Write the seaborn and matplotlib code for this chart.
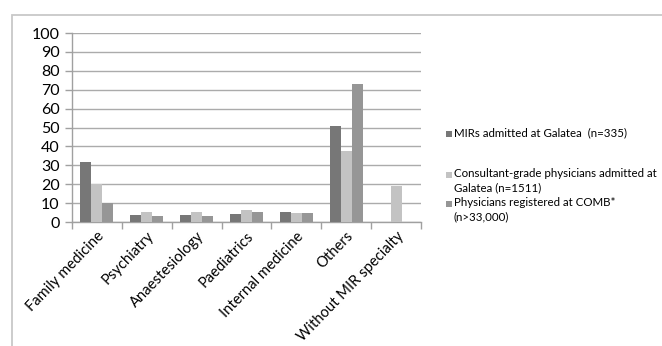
import matplotlib
matplotlib.use("Agg")
import matplotlib.pyplot as plt
from matplotlib.patches import Rectangle
import numpy as np
import pandas as pd
import seaborn as sns

# Specialty categories on the x axis
specialties = ["Family medicine", "Psychiatry", "Anaestesiology", "Paediatrics",
               "Internal medicine", "Others", "Without MIR specialty"]

# Percentages per group
mirs_galatea = [31.8, 3.8, 3.8, 4.1, 5.3, 50.6, 0.0]
consultants_galatea = [20.2, 5.5, 5.2, 6.5, 4.9, 37.8, 19.3]
physicians_comb = [10.0, 3.0, 3.3, 5.2, 4.5, 73.2, 0.0]

series_labels = ["MIRs admitted at Galatea  (n=335)",
                 "Consultant-grade physicians admitted at\nGalatea (n=1511)",
                 "Physicians registered at COMB*\n(n>33,000)"]
series_colors = ["#777777", "#c3c3c3", "#969696"]

yticks = list(range(0, 101, 10))

df = pd.DataFrame({
    "specialty": specialties * 3,
    "value": mirs_galatea + consultants_galatea + physicians_comb,
    "series": [series_labels[0]] * 7 + [series_labels[1]] * 7 + [series_labels[2]] * 7,
})

sns.set_theme(style="white")
plt.rcParams["font.family"] = ["Lato", "DejaVu Sans"]

W, H = 662, 346
fig = plt.figure(figsize=(W / 100, H / 100), dpi=100)
ax = fig.add_axes([72 / W, (H - 222) / H, (421 - 72) / W, (222 - 33) / H])

sns.barplot(data=df, x="specialty", y="value", hue="series", order=specialties,
            hue_order=series_labels, palette=series_colors, width=0.66, gap=0,
            linewidth=0, saturation=1, legend=False, ax=ax, zorder=3)

ax.set_xlim(-0.5, len(specialties) - 0.5)
ax.set_ylim(0, 100)
ax.set_yticks(yticks)
ax.set_yticklabels([str(t) for t in yticks], fontsize=11.5, color="black")
ax.set_xlabel("")
ax.set_ylabel("")

ax.yaxis.grid(True, color="#ababab", linewidth=1.0, zorder=0)
ax.set_axisbelow(True)

for s in ["top", "right"]:
    ax.spines[s].set_visible(False)
for s in ["left", "bottom"]:
    ax.spines[s].set_color("#a0a0a0")
    ax.spines[s].set_linewidth(1.0)

ax.tick_params(axis="y", which="major", left=True, length=5, width=1.0,
               color="#a0a0a0", pad=4)
ax.set_xticks(np.arange(len(specialties)))
ax.set_xticks(np.arange(-0.5, len(specialties)), minor=True)
ax.tick_params(axis="x", which="major", length=0, pad=5)
ax.tick_params(axis="x", which="minor", bottom=True, length=5, width=1.0,
               color="#a0a0a0")
ax.set_xticklabels(specialties, rotation=46, ha="right", rotation_mode="anchor",
                   fontsize=10.6, color="black")

# Legend drawn as squares with text to the right of the plot
legend_rows = [(134, series_labels[0]), (175, series_labels[1]), (204, series_labels[2])]
for (ypix, label), color in zip(legend_rows, series_colors):
    fig.patches.append(Rectangle((446 / W, (H - ypix - 3) / H), 6 / W, 6 / H,
                                 transform=fig.transFigure, facecolor=color,
                                 edgecolor="none"))
    fig.text(454 / W, (H - ypix + 7) / H, label, fontsize=8.3, va="top",
             ha="left", color="black", linespacing=1.4,
             transform=fig.transFigure)

# Outer frame around the chart area
fig.patches.append(Rectangle((12 / W, -0.1), 1.2, (H - 14.5) / H + 0.1,
                             transform=fig.transFigure, fill=False,
                             edgecolor="#c8c8c8", linewidth=1.3))

fig.savefig("out.png", dpi=100)
